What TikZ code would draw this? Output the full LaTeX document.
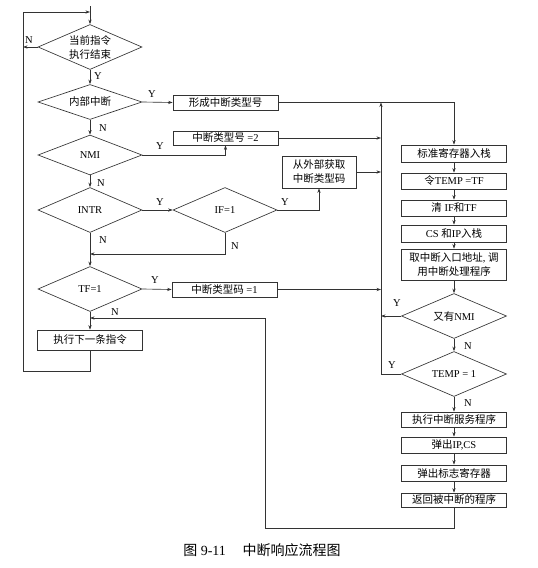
\documentclass[tikz,border=0pt]{standalone}
\usepackage{fontspec}
\setmainfont{Liberation Serif}
\newfontfamily\cjkfont{Noto Sans CJK SC}
\usetikzlibrary{shapes.geometric,arrows.meta}
\newcommand\zh[1]{{\cjkfont #1}}
\begin{document}
\begin{tikzpicture}[x=1pt,y=-1pt,
  line/.style={draw=black!80, line width=0.65pt},
  arr/.style={line, -{Stealth[length=4.5pt,width=3.2pt]}},
  box/.style={draw=black!80, line width=0.65pt, rectangle, minimum width=105pt, inner sep=0pt, align=center, font=\fontsize{10.5}{14}\selectfont},
  dia/.style={draw=black!80, line width=0.65pt, diamond, aspect=2.3, inner sep=0pt, minimum width=104pt, minimum height=45pt, align=center, font=\fontsize{10.5}{14}\selectfont},
  lbl/.style={font=\fontsize{10.5}{12}\selectfont, inner sep=0pt}
]
\fill[white] (0,0) rectangle (538,568);
\useasboundingbox (0,0) rectangle (538,568);

% left column decisions
\node[dia] (d1) at (90,47) {\zh{当前指令}\\\zh{执行结束}};
\node[dia, minimum height=35pt] (d2) at (90,102) {\zh{内部中断}};
\node[dia, minimum height=40pt] (d3) at (90,155) {NMI};
\node[dia] (d4) at (90,210) {INTR};
\node[dia] (dif) at (225,210) {IF=1};
\node[dia] (d5) at (90,289) {TF=1};
\node[box, minimum height=20pt] (b5) at (90,340) {\zh{执行下一条指令}};

% middle boxes
\node[box, minimum height=15pt] (b1) at (225.5,102.5) {\zh{形成中断类型号}};
\node[box, minimum height=14pt] (b2) at (225.5,138) {\zh{中断类型号} =2};
\node[box, minimum width=74pt, minimum height=32pt] (b3) at (319,172) {\zh{从外部获取}\\\zh{中断类型码}};
\node[box, minimum height=15pt] (b4) at (224.5,289.5) {\zh{中断类型码} =1};

% right column
\node[box, minimum height=17pt] (r1) at (454,153.5) {\zh{标准寄存器入栈}};
\node[box, minimum height=16pt] (r2) at (454,181) {\zh{令}TEMP =TF};
\node[box, minimum height=16pt] (r3) at (454,208) {\zh{清} IF\zh{和}TF};
\node[box, minimum height=17pt] (r4) at (454,233.5) {CS \zh{和}IP\zh{入栈}};
\node[box, minimum height=31pt] (r5) at (454,264.5) {\zh{取中断入口地址}, \zh{调}\\\zh{用中断处理程序}};
\node[dia, minimum width=105pt] (dn) at (454,316) {\zh{又有}NMI};
\node[dia, minimum width=105pt] (dt) at (454,374) {TEMP = 1};
\node[box, minimum height=15pt] (r6) at (454,419.5) {\zh{执行中断服务程序}};
\node[box, minimum height=16pt] (r7) at (454,445) {\zh{弹出}IP,CS};
\node[box, minimum height=16pt] (r8) at (454,473) {\zh{弹出标志寄存器}};
\node[box, minimum height=14pt] (r9) at (454,500) {\zh{返回被中断的程序}};

% caption
\node[font=\fontsize{14}{16}\selectfont, inner sep=0pt] (cap) at (262,550) {\zh{图} 9-11\hspace{1.2em}\zh{中断响应流程图}};

% coordinates
\coordinate (t0) at (90,6);
\coordinate (j0) at (90,12);
\coordinate (lp1) at (23,371);
\coordinate (lp2) at (23,12);
\coordinate (j1) at (90,254);
\coordinate (j2) at (90,318);
\coordinate (ct) at (381,102.5);
\coordinate (cb) at (381,374);
\coordinate (rb) at (454,528);
\coordinate (lb) at (265,528);
\coordinate (lt) at (265,318);

% left column connectors
\draw[arr] (t0) -- (d1.north);
\draw[arr] (b5.south) |- (lp1) -- (lp2) -- (j0);
\draw[arr] (d1.west) -- (d1.west -| lp1);
\draw[arr] (d1.south) -- (d2.north);
\draw[arr] (d2.east) -- (b1.west);
\draw[arr] (d2.south) -- (d3.north);
\draw[arr] (d3.east) -| (b2.south);
\draw[arr] (d3.south) -- (d4.north);
\draw[arr] (d4.east) -- (dif.west);
\draw[arr] (dif.east) -| (b3.south);
\draw[arr] (dif.south) |- (j1);
\draw[arr] (d4.south) -- (d5.north);
\draw[arr] (d5.east) -- (b4.west);
\draw[arr] (d5.south) -- (b5.north);

% to right column
\draw[arr] (b1.east) -| (r1.north);
\draw[arr] (b2.east) -- (b2.east -| ct);
\draw[arr] (b3.east) -- (b3.east -| ct);
\draw[arr] (b4.east) -- (b4.east -| ct);
\draw[arr] (dt.west) -- (cb) -- (ct);
\draw[arr] (dn.west) -- (dn.west -| ct);

% right chain
\draw[arr] (r1.south) -- (r2.north);
\draw[arr] (r2.south) -- (r3.north);
\draw[arr] (r3.south) -- (r4.north);
\draw[arr] (r4.south) -- (r5.north);
\draw[arr] (r5.south) -- (dn.north);
\draw[arr] (dn.south) -- (dt.north);
\draw[arr] (dt.south) -- (r6.north);
\draw[arr] (r6.south) -- (r7.north);
\draw[arr] (r7.south) -- (r8.north);
\draw[arr] (r8.south) -- (r9.north);
\draw[arr] (r9.south) -- (rb) -- (lb) -- (lt) -- (j2);

% labels
\node[lbl] (l1) at (29,40) {N};
\node[lbl] (l2) at (98,76) {Y};
\node[lbl] (l3) at (152,94) {Y};
\node[lbl] (l4) at (103,128) {N};
\node[lbl] (l5) at (160,146) {Y};
\node[lbl] (l6) at (101,183) {N};
\node[lbl] (l7) at (160,202) {Y};
\node[lbl] (l8) at (103,240) {N};
\node[lbl] (l9) at (285,202) {Y};
\node[lbl] (l10) at (235,246) {N};
\node[lbl] (l11) at (155,280) {Y};
\node[lbl] (l12) at (115,312) {N};
\node[lbl] (l13) at (397,303) {Y};
\node[lbl] (l14) at (468,346) {N};
\node[lbl] (l15) at (392,365) {Y};
\node[lbl] (l16) at (468,403) {N};
\end{tikzpicture}
\end{document}
